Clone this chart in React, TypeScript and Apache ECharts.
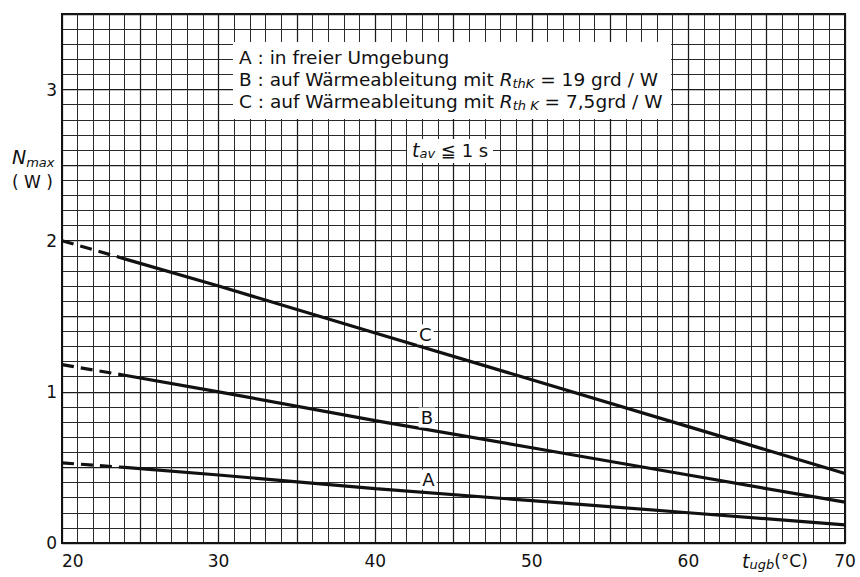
import React, { useEffect, useRef } from 'react';
import * as echarts from 'echarts';

// Ambient temperature t_ugb (°C) at which the curves were read
const xValues = [20, 24, 30, 40, 50, 60, 70];
// N_max (W)
const curveA = [0.53, 0.5, 0.45, 0.36, 0.28, 0.2, 0.12];
const curveB = [1.18, 1.11, 1.0, 0.81, 0.63, 0.45, 0.27];
const curveC = [2.0, 1.88, 1.7, 1.39, 1.08, 0.77, 0.46];
const curveNames = ['A', 'B', 'C'];
// the first two points of each curve are drawn dashed
const dashedCount = 2;
// where the curve letters sit (data coordinates)
const curveLabelX = [43.4, 43.3, 43.2];
const curveLabelY = [0.42, 0.83, 1.38];

const xTickLabels = [20, 30, 40, 50, 60, 70];
const yTickLabels = [0, 1, 2, 3];

const legendLines = [
  'A : in freier Umgebung',
  'B : auf Wärmeableitung mit {i|R}{sub|thK} = 19 grd / W',
  'C : auf Wärmeableitung mit {i|R}{sub|th K} = 7,5grd / W',
];

const FONT = '"DejaVu Sans", "Liberation Sans", sans-serif';
const INK = '#111';

export default function App() {
  const ref = useRef<HTMLDivElement>(null);
  useEffect(() => {
    if (!ref.current) return;
    const chart = echarts.init(ref.current, undefined, { renderer: 'svg' });
    const curves = [curveA, curveB, curveC];
    const series: any[] = [];
    curves.forEach((vals, idx) => {
      const pts = xValues.map((x, i) => [x, vals[i]]);
      series.push({
        type: 'line',
        name: curveNames[idx] + '-dash',
        data: pts.slice(0, dashedCount),
        showSymbol: false,
        symbol: 'none',
        lineStyle: { color: INK, width: 3.2, type: [12, 7] },
        z: 5,
      });
      series.push({
        type: 'line',
        name: curveNames[idx],
        data: pts.slice(dashedCount - 1),
        showSymbol: false,
        symbol: 'none',
        lineStyle: { color: INK, width: 3.2 },
        z: 5,
      });
    });
    series.push({
      type: 'scatter',
      name: 'labels',
      symbolSize: 0,
      itemStyle: { color: INK, opacity: 1 },
      data: curveNames.map((n, i) => ({ name: n, value: [curveLabelX[i], curveLabelY[i]] })),
      label: {
        show: true,
        position: 'inside',
        formatter: (p: any) => p.name,
        color: INK,
        opacity: 1,
        textBorderWidth: 0,
        textBorderColor: 'transparent',
        fontFamily: FONT,
        fontSize: 18,
        backgroundColor: '#fff',
        padding: [1, 2],
      },
      emphasis: { disabled: true },
      z: 6,
    });

    chart.setOption({
      animation: false,
      backgroundColor: '#fff',
      grid: {
        left: 62,
        right: 15,
        top: 14,
        bottom: 34,
        show: true,
        borderColor: INK,
        borderWidth: 2,
        backgroundColor: 'transparent',
      },
      xAxis: {
        type: 'value',
        min: 20,
        max: 70,
        interval: 5,
        axisLine: { show: true, lineStyle: { color: INK, width: 2 } },
        axisTick: { show: false },
        minorTick: { show: false, splitNumber: 5 },
        splitLine: { show: true, lineStyle: { color: '#1a1a1a', width: 1.25 } },
        minorSplitLine: { show: true, lineStyle: { color: '#2a2a2a', width: 1 } },
        axisLabel: {
          margin: 9,
          color: INK,
          fontFamily: FONT,
          fontSize: 17,
          alignMinLabel: 'left',
          formatter: (v: number) => (xTickLabels.includes(v) ? String(v) : ''),
        },
      },
      yAxis: {
        type: 'value',
        min: 0,
        max: 3.5,
        interval: 0.5,
        axisLine: { show: true, lineStyle: { color: INK, width: 2 } },
        axisTick: { show: false },
        minorTick: { show: false, splitNumber: 5 },
        splitLine: { show: true, lineStyle: { color: '#1a1a1a', width: 1.25 } },
        minorSplitLine: { show: true, lineStyle: { color: '#2a2a2a', width: 1 } },
        axisLabel: {
          margin: 5,
          color: INK,
          fontFamily: FONT,
          fontSize: 17,
          formatter: (v: number) => (yTickLabels.includes(v) ? String(v) : ''),
        },
      },
      graphic: [
        {
          type: 'rect',
          z: 100,
          shape: { x: 233, y: 42, width: 438, height: 77 },
          style: { fill: '#fff' },
        },
        {
          type: 'text',
          z: 101,
          x: 239,
          y: 46,
          style: {
            text: legendLines.join('\n'),
            fill: INK,
            fontFamily: FONT,
            fontSize: 18.5,
            lineHeight: 22,
            rich: {
              i: { fontStyle: 'italic', fontSize: 18.5, fontFamily: FONT, fill: INK, lineHeight: 22 },
              sub: {
                fontStyle: 'italic',
                fontSize: 13,
                fontFamily: FONT,
                fill: INK,
                verticalAlign: 'bottom',
                lineHeight: 14,
              },
            },
          },
        },
        {
          type: 'rect',
          z: 100,
          shape: { x: 407, y: 139, width: 86, height: 24 },
          style: { fill: '#fff' },
        },
        {
          type: 'text',
          z: 101,
          x: 412,
          y: 140,
          style: {
            text: '{i|t}{sub|av} ≦ 1 s',
            fill: INK,
            fontFamily: FONT,
            fontSize: 18,
            lineHeight: 20,
            rich: {
              i: { fontStyle: 'italic', fontSize: 19, fontFamily: FONT, fill: INK, lineHeight: 20 },
              sub: {
                fontStyle: 'italic',
                fontSize: 13,
                fontFamily: FONT,
                fill: INK,
                verticalAlign: 'bottom',
                lineHeight: 13,
              },
            },
          },
        },
        {
          type: 'text',
          z: 101,
          x: 12,
          y: 145,
          style: {
            text: '{i|N}{sub|max}\n{n|( W )}',
            fill: INK,
            fontFamily: FONT,
            fontSize: 18,
            rich: {
              i: { fontStyle: 'italic', fontSize: 19, fontFamily: FONT, fill: INK, lineHeight: 24 },
              sub: {
                fontStyle: 'italic',
                fontSize: 13,
                fontFamily: FONT,
                fill: INK,
                verticalAlign: 'bottom',
                lineHeight: 16,
              },
              n: { fontSize: 17, fontFamily: FONT, fill: INK, lineHeight: 26 },
            },
          },
        },
        {
          type: 'rect',
          z: 100,
          shape: { x: 738, y: 548, width: 80, height: 29 },
          style: { fill: '#fff' },
        },
        {
          type: 'text',
          z: 101,
          x: 742,
          y: 551,
          style: {
            text: '{i|t}{sub|ugb}{n|(°C)}',
            fill: INK,
            fontFamily: FONT,
            fontSize: 18,
            rich: {
              i: { fontStyle: 'italic', fontSize: 19, fontFamily: FONT, fill: INK, lineHeight: 20 },
              sub: {
                fontStyle: 'italic',
                fontSize: 13,
                fontFamily: FONT,
                fill: INK,
                verticalAlign: 'bottom',
                lineHeight: 13,
              },
              n: { fontSize: 17, fontFamily: FONT, fill: INK, lineHeight: 20 },
            },
          },
        },
      ],
      series,
    });
    return () => chart.dispose();
  }, []);
  return (
    <div
      ref={ref}
      style={{ position: 'fixed', left: 0, top: 0, width: 860, height: 577, background: '#fff' }}
    />
  );
}
